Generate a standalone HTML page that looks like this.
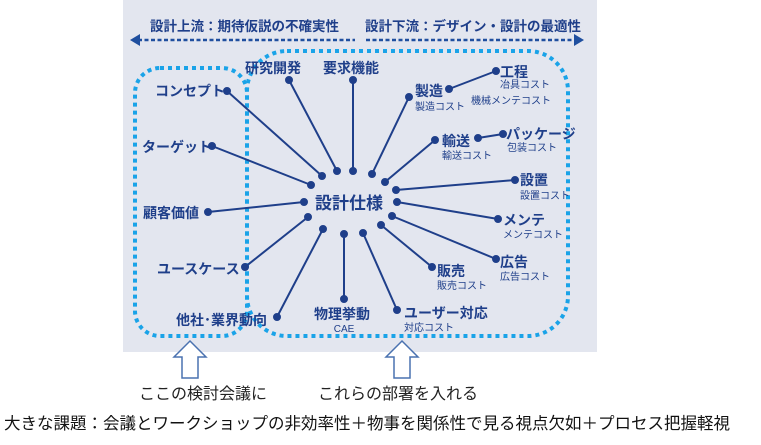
<!DOCTYPE html>
<html><head><meta charset="utf-8"><style>
html,body{margin:0;padding:0;background:#fff;width:761px;height:445px;overflow:hidden}
svg{display:block}
text{font-family:"Liberation Sans","Noto Sans CJK JP",sans-serif}
.l{font-size:14px;font-weight:bold;fill:#1f3f8a}
.c{font-size:10px;fill:#1f3f8a}
</style></head><body>
<svg width="761" height="445" viewBox="0 0 761 445">
<rect x="123" y="0" width="474" height="352" fill="#e3e6ef"/>
<text x="150" y="31" class="l" style="font-size:13.5px">設計上流：期待仮説の不確実性</text>
<text x="365" y="31" class="l" style="font-size:13.5px">設計下流：デザイン・設計の最適性</text>
<line x1="138" y1="40" x2="355" y2="40" stroke="#1f4f9f" stroke-width="2.5" stroke-dasharray="4 2.5"/>
<line x1="366" y1="40" x2="576" y2="40" stroke="#1f4f9f" stroke-width="2.5" stroke-dasharray="4 2.5"/>
<polygon points="130,40 140,34 140,46" fill="#1f4f9f"/>
<polygon points="584,40 574,34 574,46" fill="#1f4f9f"/>
<rect x="135" y="68" width="112" height="268" rx="25" fill="none" stroke="#1aa3e8" stroke-width="4" stroke-dasharray="4 4"/>
<rect x="247" y="51" width="321" height="285" rx="40" fill="none" stroke="#1aa3e8" stroke-width="4" stroke-dasharray="4 4"/>
<g stroke="#1f3f8a" stroke-width="2" fill="#1f3f8a">
<line x1="227" y1="91" x2="322" y2="176"/><circle cx="227" cy="91" r="3"/><circle cx="322" cy="176" r="3"/>
<line x1="289" y1="80" x2="337" y2="171"/><circle cx="289" cy="80" r="3"/><circle cx="337" cy="171" r="3"/>
<line x1="353" y1="80" x2="353" y2="171"/><circle cx="353" cy="80" r="3"/><circle cx="353" cy="171" r="3"/>
<line x1="409" y1="97" x2="372" y2="174"/><circle cx="409" cy="97" r="3"/><circle cx="372" cy="174" r="3"/>
<line x1="449" y1="89" x2="496" y2="71"/><circle cx="449" cy="89" r="3"/><circle cx="496" cy="71" r="3"/>
<line x1="435" y1="140" x2="385" y2="182"/><circle cx="435" cy="140" r="3"/><circle cx="385" cy="182" r="3"/>
<line x1="478" y1="138" x2="503" y2="134"/><circle cx="478" cy="138" r="3"/><circle cx="503" cy="134" r="3"/>
<line x1="515" y1="180" x2="396" y2="190"/><circle cx="515" cy="180" r="3"/><circle cx="396" cy="190" r="3"/>
<line x1="498" y1="219" x2="397" y2="202"/><circle cx="498" cy="219" r="3"/><circle cx="397" cy="202" r="3"/>
<line x1="496" y1="259" x2="392" y2="216"/><circle cx="496" cy="259" r="3"/><circle cx="392" cy="216" r="3"/>
<line x1="432" y1="267" x2="381" y2="225"/><circle cx="432" cy="267" r="3"/><circle cx="381" cy="225" r="3"/>
<line x1="397" y1="310" x2="363" y2="233"/><circle cx="397" cy="310" r="3"/><circle cx="363" cy="233" r="3"/>
<line x1="344" y1="299" x2="344" y2="234"/><circle cx="344" cy="299" r="3"/><circle cx="344" cy="234" r="3"/>
<line x1="277" y1="317" x2="323" y2="229"/><circle cx="277" cy="317" r="3"/><circle cx="323" cy="229" r="3"/>
<line x1="245" y1="267" x2="308" y2="217"/><circle cx="245" cy="267" r="3"/><circle cx="308" cy="217" r="3"/>
<line x1="208" y1="212" x2="304" y2="202"/><circle cx="208" cy="212" r="3"/><circle cx="304" cy="202" r="3"/>
<line x1="212" y1="146" x2="311" y2="185"/><circle cx="212" cy="146" r="3"/><circle cx="311" cy="185" r="3"/>
</g>
<text x="315" y="209" class="l" style="font-size:17px">設計仕様</text>
<text x="245" y="73" class="l">研究開発</text>
<text x="323" y="73" class="l">要求機能</text>
<text x="500" y="77" class="l">工程</text>
<text x="500" y="88" class="c">冶具コスト</text>
<text x="471" y="104" class="c">機械メンテコスト</text>
<text x="415" y="96" class="l">製造</text>
<text x="415" y="110" class="c">製造コスト</text>
<text x="155" y="96" class="l">コンセプト</text>
<text x="142" y="152" class="l">ターゲット</text>
<text x="442" y="146" class="l">輸送</text>
<text x="442" y="159" class="c">輸送コスト</text>
<text x="506" y="139" class="l">パッケージ</text>
<text x="507" y="151" class="c">包装コスト</text>
<text x="520" y="185" class="l">設置</text>
<text x="520" y="199" class="c">設置コスト</text>
<text x="143" y="218" class="l">顧客価値</text>
<text x="503" y="225" class="l">メンテ</text>
<text x="503" y="238" class="c">メンテコスト</text>
<text x="500" y="267" class="l">広告</text>
<text x="500" y="280" class="c">広告コスト</text>
<text x="437" y="276" class="l">販売</text>
<text x="437" y="289" class="c">販売コスト</text>
<text x="157" y="274" class="l">ユースケース</text>
<text x="176" y="325" class="l">他社･業界動向</text>
<text x="314" y="319" class="l">物理挙動</text>
<text x="344" y="332" class="c" text-anchor="middle">CAE</text>
<text x="404" y="318" class="l">ユーザー対応</text>
<text x="404" y="331" class="c">対応コスト</text>
<g fill="#fff" stroke="#4a72b0" stroke-width="1.5">
<polygon points="190,341 206,357 198,357 198,378 182,378 182,357 174,357"/>
<polygon points="402,341 418,357 410,357 410,378 394,378 394,357 386,357"/>
</g>
<text x="203" y="399" text-anchor="middle" style="font-size:16px;fill:#222">ここの検討会議に</text>
<text x="398" y="399" text-anchor="middle" style="font-size:16px;fill:#222">これらの部署を入れる</text>
<text x="4" y="429" style="font-size:16.5px;fill:#111">大きな課題：会議とワークショップの非効率性＋物事を関係性で見る視点欠如＋プロセス把握軽視</text>
</svg>
</body></html>
